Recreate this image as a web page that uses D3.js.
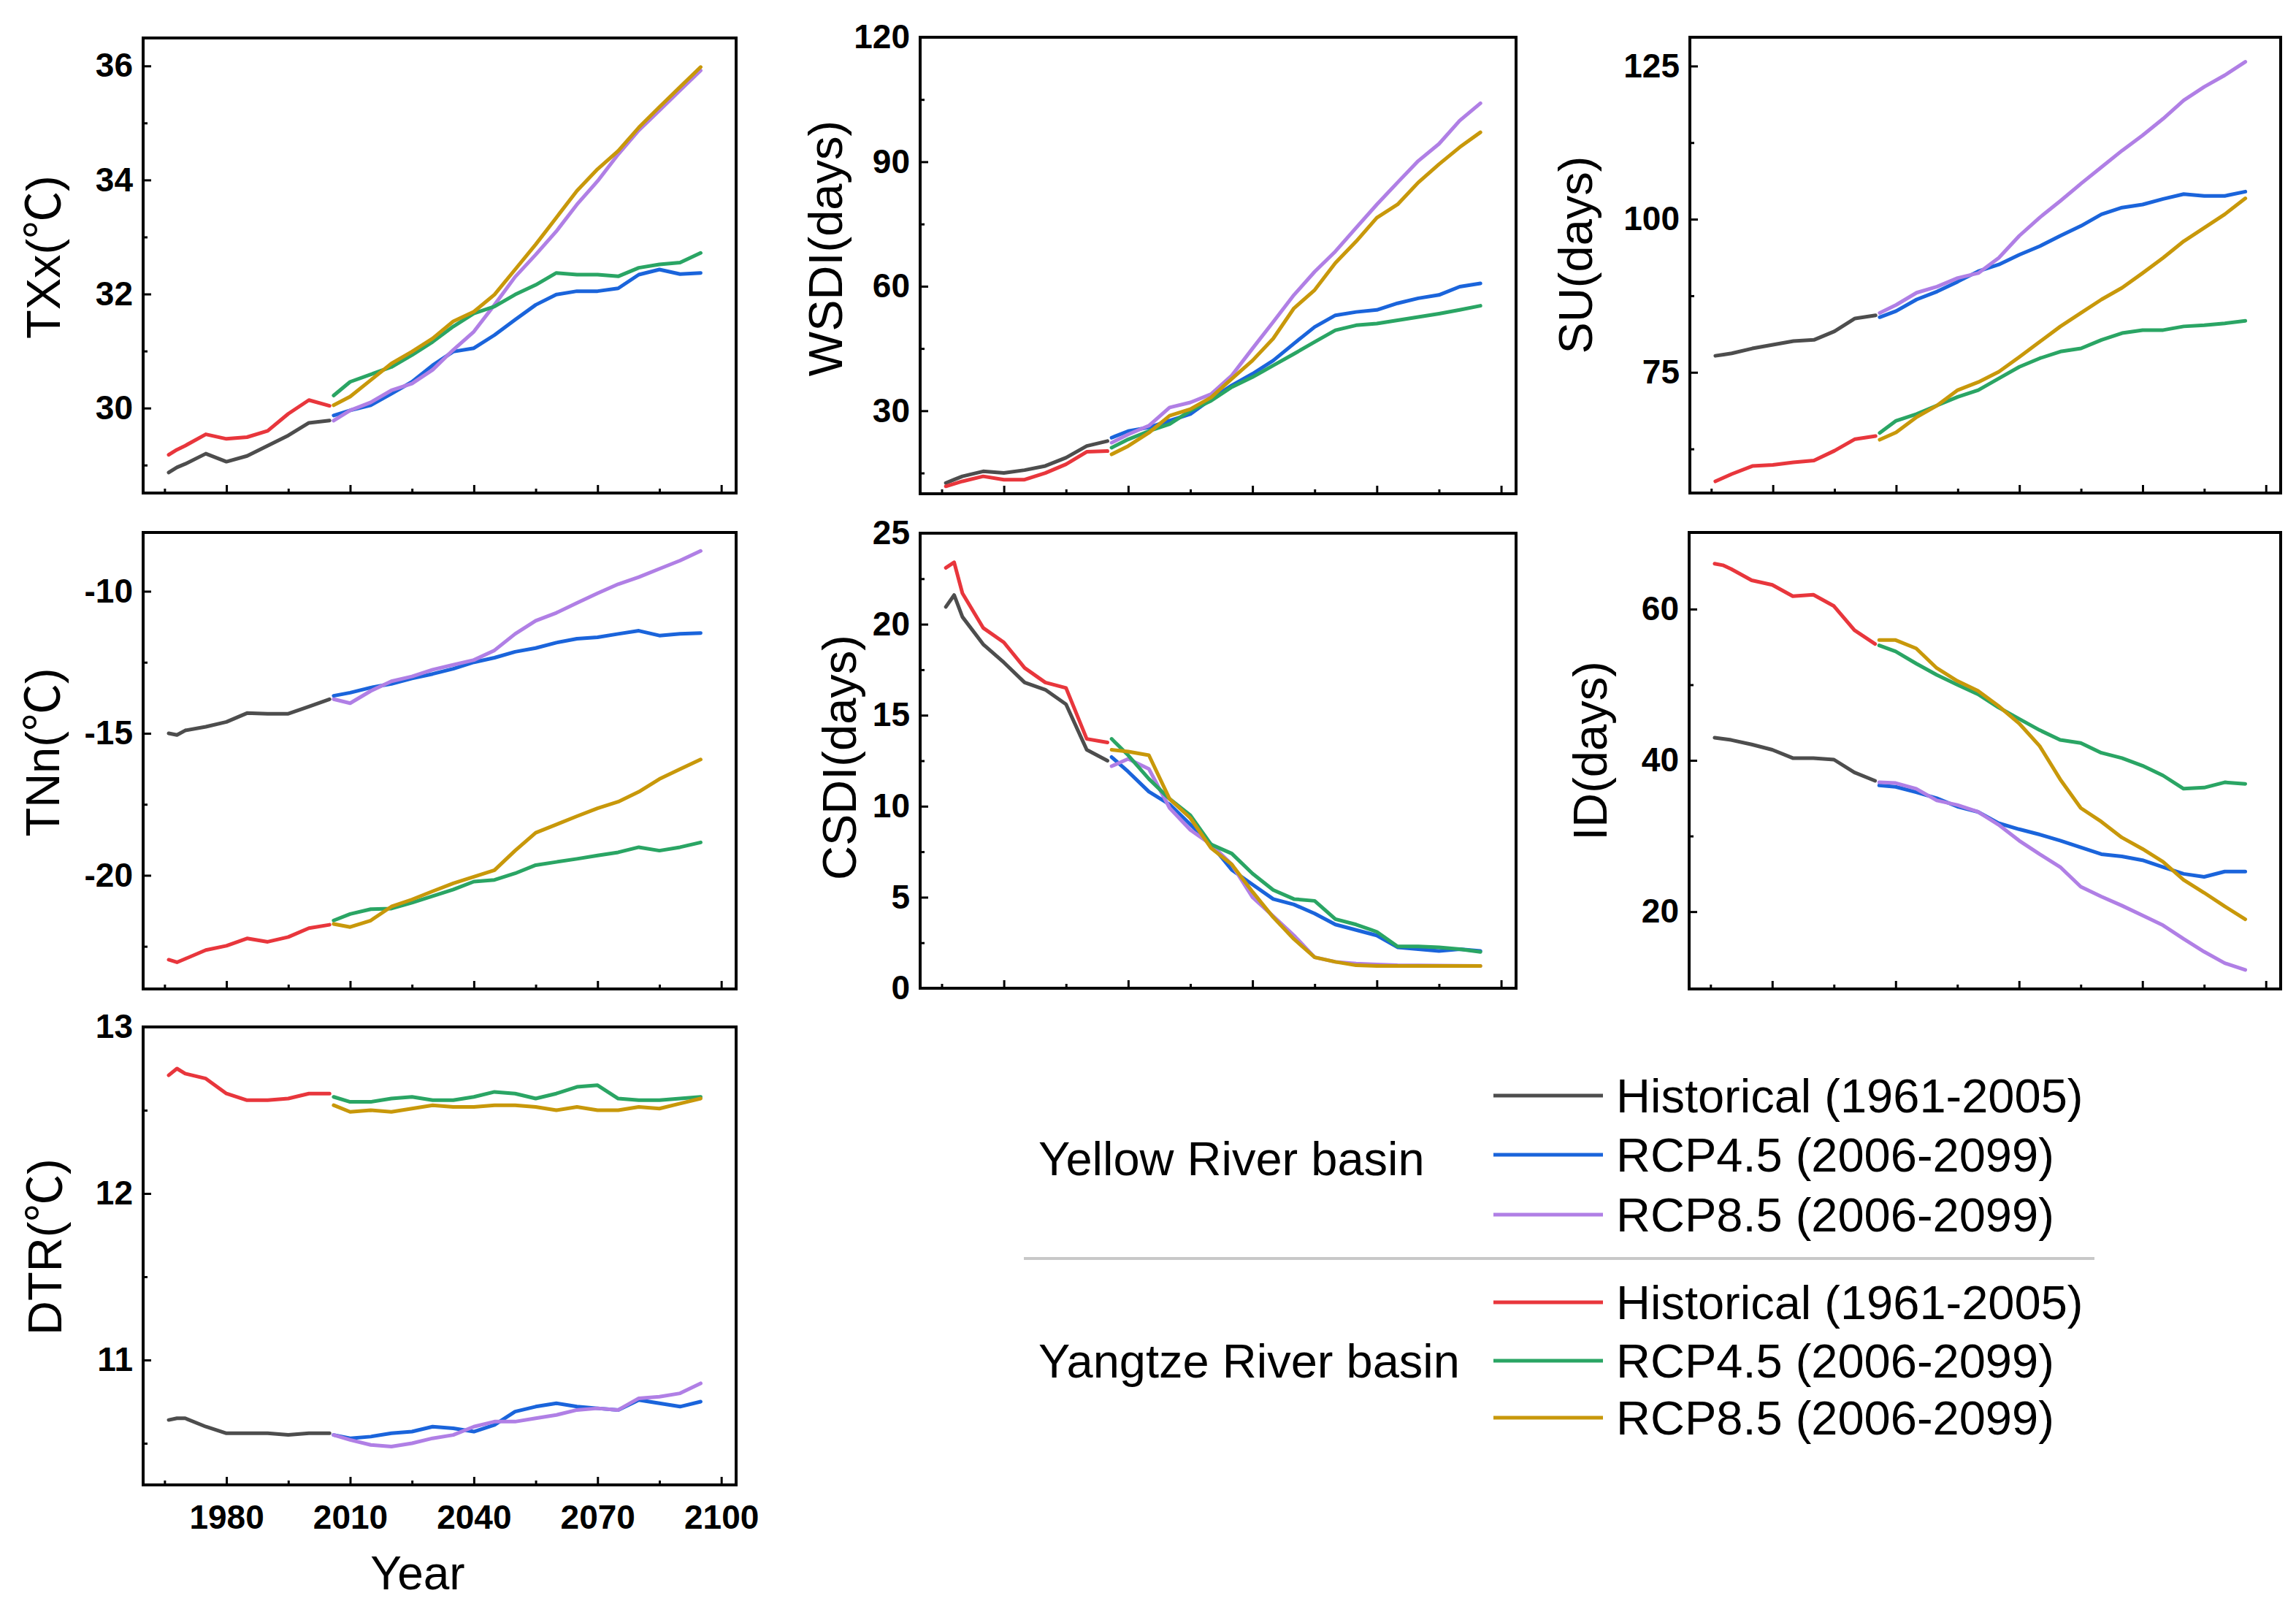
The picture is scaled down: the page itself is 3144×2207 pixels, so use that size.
<!DOCTYPE html>
<html>
<head>
<meta charset="utf-8">
<script src="https://cdnjs.cloudflare.com/ajax/libs/d3/7.8.5/d3.min.js"></script>
<style>
body { margin: 0; background: #fff; }
svg text { font-family: "Liberation Sans", Arial, "Noto Sans CJK SC", sans-serif; }
</style>
</head>
<body>
<svg id="chart" width="3144" height="2207"></svg>
<script>
// years (moving-window values, historical + projections)
var histYears = [1966, 1968, 1970, 1975, 1980, 1985, 1990, 1995, 2000, 2005];
var projYears = [2006, 2010, 2015, 2020, 2025, 2030, 2035, 2040, 2045, 2050, 2055, 2060, 2065, 2070, 2075, 2080, 2085, 2090, 2095];
var xMajor = [1980, 2010, 2040, 2070, 2100];
var xMinor = [1965, 1995, 2025, 2055, 2085];

// TXx
var txxYRHist = [28.87, 28.96, 29.02, 29.2, 29.06, 29.16, 29.34, 29.52, 29.74, 29.78];
var txxYZHist = [29.18, 29.27, 29.34, 29.54, 29.46, 29.49, 29.6, 29.9, 30.14, 30.04];
var txxYR45 = [29.87, 29.96, 30.05, 30.25, 30.46, 30.75, 30.99, 31.05, 31.28, 31.55, 31.81, 31.99, 32.05, 32.05, 32.1, 32.34, 32.43, 32.35, 32.37];
var txxYR85 = [29.78, 29.96, 30.1, 30.31, 30.43, 30.67, 31.02, 31.34, 31.81, 32.3, 32.69, 33.1, 33.57, 33.98, 34.45, 34.87, 35.22, 35.57, 35.92];
var txxYZ45 = [30.22, 30.46, 30.59, 30.72, 30.93, 31.16, 31.43, 31.66, 31.78, 31.99, 32.16, 32.37, 32.34, 32.34, 32.31, 32.46, 32.52, 32.55, 32.72];
var txxYZ85 = [30.05, 30.2, 30.49, 30.78, 30.99, 31.22, 31.52, 31.69, 31.99, 32.43, 32.87, 33.34, 33.81, 34.19, 34.51, 34.92, 35.28, 35.63, 35.98];

// WSDI
var wsdiYRHist = [12.6, 13.4, 14.2, 15.4, 15.0, 15.7, 16.7, 18.7, 21.5, 22.7];
var wsdiYZHist = [11.8, 12.4, 13.0, 14.2, 13.4, 13.4, 15.0, 17.1, 20.1, 20.3];
var wsdiYR45 = [23.5, 25.1, 26.0, 27.6, 29.2, 32.8, 36.1, 38.9, 42.1, 46.2, 50.2, 53.0, 53.8, 54.3, 55.9, 57.1, 57.9, 59.9, 60.7];
var wsdiYR85 = [22.3, 24.3, 26.4, 30.8, 32.0, 34.0, 38.5, 45.0, 51.4, 57.9, 63.5, 68.4, 74.1, 79.7, 85.0, 90.2, 94.3, 99.9, 104.1];
var wsdiYZ45 = [21.1, 23.1, 25.1, 26.8, 30.0, 32.4, 35.7, 38.1, 40.9, 43.7, 46.6, 49.4, 50.6, 51.0, 51.8, 52.6, 53.4, 54.3, 55.3];
var wsdiYZ85 = [19.5, 21.5, 24.7, 28.8, 30.4, 33.2, 37.7, 42.1, 47.4, 54.7, 59.1, 65.6, 70.8, 76.5, 79.7, 85.0, 89.4, 93.5, 97.1];

// SU
var suYRHist = [77.7, 77.9, 78.1, 78.9, 79.5, 80.1, 80.3, 81.7, 83.8, 84.3];
var suYZHist = [57.2, 57.8, 58.4, 59.7, 59.9, 60.3, 60.6, 62.2, 64.1, 64.6];
var suYR45 = [84.0, 85.0, 86.9, 88.2, 89.8, 91.5, 92.6, 94.2, 95.6, 97.3, 98.9, 100.8, 101.9, 102.4, 103.3, 104.1, 103.8, 103.8, 104.5];
var suYR85 = [84.7, 86.0, 88.0, 89.0, 90.4, 91.2, 93.7, 97.3, 100.3, 103.0, 105.8, 108.5, 111.2, 113.7, 116.4, 119.4, 121.6, 123.5, 125.7];
var suYZ45 = [65.1, 67.1, 68.2, 69.6, 71.0, 72.1, 74.0, 75.9, 77.3, 78.4, 78.9, 80.3, 81.4, 81.9, 81.9, 82.5, 82.7, 83.0, 83.4];
var suYZ85 = [64.0, 65.2, 67.7, 69.6, 72.1, 73.4, 75.1, 77.5, 80.0, 82.5, 84.7, 86.9, 88.8, 91.2, 93.7, 96.4, 98.6, 100.8, 103.4];

// TNn
var tnnYRHist = [-15.0, -15.06, -14.9, -14.77, -14.6, -14.29, -14.31, -14.31, -14.06, -13.8];
var tnnYZHist = [-22.97, -23.06, -22.94, -22.63, -22.48, -22.22, -22.34, -22.17, -21.86, -21.74];
var tnnYR45 = [-13.68, -13.57, -13.39, -13.26, -13.07, -12.91, -12.73, -12.5, -12.34, -12.13, -12.0, -11.81, -11.67, -11.62, -11.5, -11.39, -11.56, -11.5, -11.47];
var tnnYR85 = [-13.8, -13.94, -13.51, -13.17, -13.0, -12.76, -12.59, -12.42, -12.08, -11.5, -11.04, -10.76, -10.41, -10.07, -9.75, -9.5, -9.21, -8.92, -8.58];
var tnnYZ45 = [-21.59, -21.36, -21.19, -21.17, -20.96, -20.73, -20.5, -20.22, -20.16, -19.93, -19.64, -19.53, -19.42, -19.3, -19.19, -19.01, -19.13, -19.01, -18.84];
var tnnYZ85 = [-21.71, -21.82, -21.59, -21.1, -20.85, -20.56, -20.28, -20.05, -19.82, -19.13, -18.5, -18.21, -17.92, -17.64, -17.41, -17.06, -16.61, -16.26, -15.92];

// CSDI
var csdiYRHist = [20.95, 21.6, 20.4, 18.9, 17.9, 16.8, 16.4, 15.6, 13.1, 12.5];
var csdiYZHist = [23.1, 23.4, 21.7, 19.8, 19.0, 17.6, 16.8, 16.5, 13.7, 13.5];
var csdiYR45 = [12.7, 11.9, 10.8, 10.1, 9.0, 7.9, 6.5, 5.7, 4.9, 4.6, 4.1, 3.5, 3.2, 2.9, 2.25, 2.15, 2.05, 2.15, 2.05];
var csdiYR85 = [12.2, 12.6, 12.05, 9.9, 8.7, 7.9, 6.8, 5.0, 3.96, 2.9, 1.7, 1.45, 1.35, 1.3, 1.26, 1.25, 1.24, 1.23, 1.22];
var csdiYZ45 = [13.7, 12.8, 11.5, 10.4, 9.5, 7.9, 7.4, 6.3, 5.4, 4.9, 4.8, 3.8, 3.5, 3.1, 2.3, 2.3, 2.25, 2.15, 2.0];
var csdiYZ85 = [13.1, 13.0, 12.8, 10.4, 9.35, 7.7, 6.8, 5.3, 3.9, 2.7, 1.7, 1.45, 1.26, 1.22, 1.22, 1.22, 1.22, 1.22, 1.22];

// ID
var idYRHist = [43.0, 42.85, 42.7, 42.1, 41.4, 40.3, 40.3, 40.1, 38.4, 37.3];
var idYZHist = [66.0, 65.8, 65.3, 63.8, 63.2, 61.7, 61.9, 60.4, 57.2, 55.4];
var idYR45 = [36.7, 36.5, 35.8, 35.0, 33.9, 33.2, 31.7, 30.9, 30.2, 29.4, 28.5, 27.6, 27.3, 26.8, 25.9, 25.0, 24.6, 25.3, 25.3];
var idYR85 = [37.1, 37.0, 36.25, 34.7, 34.1, 33.2, 31.5, 29.4, 27.6, 25.9, 23.3, 22.0, 20.8, 19.5, 18.2, 16.4, 14.7, 13.2, 12.3];
var idYZ45 = [55.2, 54.4, 52.8, 51.3, 50.0, 48.75, 47.0, 45.5, 44.0, 42.7, 42.3, 41.0, 40.3, 39.3, 38.0, 36.25, 36.4, 37.1, 36.9];
var idYZ85 = [55.9, 55.9, 54.8, 52.2, 50.5, 49.2, 47.2, 44.9, 41.9, 37.5, 33.7, 31.9, 29.8, 28.3, 26.6, 24.2, 22.5, 20.7, 19.0];

// DTR
var dtrYRHist = [10.64, 10.65, 10.65, 10.6, 10.56, 10.56, 10.56, 10.55, 10.56, 10.56];
var dtrYZHist = [12.71, 12.75, 12.72, 12.69, 12.6, 12.56, 12.56, 12.57, 12.6, 12.6];
var dtrYR45 = [10.55, 10.53, 10.54, 10.56, 10.57, 10.6, 10.59, 10.57, 10.61, 10.69, 10.72, 10.74, 10.72, 10.71, 10.7, 10.76, 10.74, 10.72, 10.75];
var dtrYR85 = [10.55, 10.52, 10.49, 10.48, 10.5, 10.53, 10.55, 10.6, 10.63, 10.63, 10.65, 10.67, 10.7, 10.71, 10.7, 10.77, 10.78, 10.8, 10.86];
var dtrYZ45 = [12.58, 12.55, 12.55, 12.57, 12.58, 12.56, 12.56, 12.58, 12.61, 12.6, 12.57, 12.6, 12.64, 12.65, 12.57, 12.56, 12.56, 12.57, 12.58];
var dtrYZ85 = [12.53, 12.49, 12.5, 12.49, 12.51, 12.53, 12.52, 12.52, 12.53, 12.53, 12.52, 12.5, 12.52, 12.5, 12.5, 12.52, 12.51, 12.54, 12.57];

var legendBasins = ["Yellow River basin", "Yangtze River basin"];
var legendItems = ["Historical (1961-2005)", "RCP4.5 (2006-2099)", "RCP8.5 (2006-2099)"];

var colors = {
  yrHist: "#4d4d4d", yr45: "#1a64db", yr85: "#b07fe5",
  yzHist: "#e8363c", yz45: "#2aa564", yz85: "#c8980a"
};

function zip(years, vals) {
  return years.map(function(y, i) { return [y, vals[i]]; });
}

function series(h1, h2, a, b, c, d) {
  return [
    { c: colors.yrHist, pts: zip(histYears, h1) },
    { c: colors.yzHist, pts: zip(histYears, h2) },
    { c: colors.yr45, pts: zip(projYears, a) },
    { c: colors.yr85, pts: zip(projYears, b) },
    { c: colors.yz45, pts: zip(projYears, c) },
    { c: colors.yz85, pts: zip(projYears, d) }
  ];
}

// label pieces: the ℃ sign is set in a CJK face
var panels = [
  { label: ["TXx(", "℃", ")"], x: 196, y: 52, w: 812, h: 623, dom: [28.51, 36.49],
    major: [30, 32, 34, 36], minor: [29, 31, 33, 35], lx: 82, ly: 352,
    s: series(txxYRHist, txxYZHist, txxYR45, txxYR85, txxYZ45, txxYZ85) },
  { label: ["WSDI(days)"], x: 1260, y: 51, w: 816, h: 625, dom: [10, 120],
    major: [30, 60, 90, 120], minor: [15, 45, 75, 105], lx: 1153, ly: 340,
    s: series(wsdiYRHist, wsdiYZHist, wsdiYR45, wsdiYR85, wsdiYZ45, wsdiYZ85) },
  { label: ["SU(days)"], x: 2314, y: 51, w: 809, h: 624, dom: [55.3, 129.7],
    major: [75, 100, 125], minor: [62.5, 87.5, 112.5], lx: 2180, ly: 349,
    s: series(suYRHist, suYZHist, suYR45, suYR85, suYZ45, suYZ85) },
  { label: ["TNn(", "℃", ")"], x: 196, y: 729, w: 812, h: 625, dom: [-24.0, -7.93],
    major: [-20, -15, -10], minor: [-22.5, -17.5, -12.5], lx: 81, ly: 1030,
    s: series(tnnYRHist, tnnYZHist, tnnYR45, tnnYR85, tnnYZ45, tnnYZ85) },
  { label: ["CSDI(days)"], x: 1260, y: 730, w: 816, h: 623, dom: [0, 25],
    major: [0, 5, 10, 15, 20, 25], minor: [2.5, 7.5, 12.5, 17.5, 22.5], lx: 1172, ly: 1037,
    s: series(csdiYRHist, csdiYZHist, csdiYR45, csdiYR85, csdiYZ45, csdiYZ85) },
  { label: ["ID(days)"], x: 2313, y: 729, w: 810, h: 625, dom: [9.78, 70.13],
    major: [20, 40, 60], minor: [30, 50], lx: 2200, ly: 1028,
    s: series(idYRHist, idYZHist, idYR45, idYR85, idYZ45, idYZ85) },
  { label: ["DTR(", "℃", ")"], x: 196, y: 1406, w: 812, h: 627, dom: [10.25, 13],
    major: [11, 12, 13], minor: [10.5, 11.5, 12.5], lx: 84, ly: 1707, xlabels: true,
    s: series(dtrYRHist, dtrYZHist, dtrYR45, dtrYR85, dtrYZ45, dtrYZ85) }
];

var svg = d3.select("#chart");
var noLabel = function() { return ""; };

panels.forEach(function(p) {
  var x = d3.scaleLinear().domain([1959.8, 2103.6]).range([0, p.w]);
  var y = d3.scaleLinear().domain(p.dom).range([p.h, 0]);
  var g = svg.append("g").attr("transform", "translate(" + p.x + "," + p.y + ")");

  var line = d3.line()
    .x(function(d) { return x(d[0]); })
    .y(function(d) { return y(d[1]); });

  g.selectAll(".series")
    .data(p.s)
    .enter().append("path")
    .attr("class", "series")
    .attr("d", function(d) { return line(d.pts); })
    .attr("fill", "none")
    .attr("stroke", function(d) { return d.c; })
    .attr("stroke-width", 5)
    .attr("stroke-linejoin", "round")
    .attr("stroke-linecap", "round");

  g.append("g").attr("transform", "translate(0," + p.h + ")")
    .call(d3.axisBottom(x).tickValues(xMajor).tickSize(-11).tickPadding(27)
      .tickFormat(p.xlabels ? function(d) { return String(d); } : noLabel));
  g.append("g").attr("transform", "translate(0," + p.h + ")")
    .call(d3.axisBottom(x).tickValues(xMinor).tickSize(-6).tickFormat(noLabel));

  g.append("g")
    .call(d3.axisLeft(y).tickValues(p.major).tickSize(-11).tickPadding(14)
      .tickFormat(function(d) { return String(d); }));
  g.append("g")
    .call(d3.axisLeft(y).tickValues(p.minor).tickSize(-6).tickFormat(noLabel));

  g.selectAll(".domain").remove();
  g.selectAll(".tick line").attr("stroke", "#000").attr("stroke-width", 3);
  g.selectAll(".tick text")
    .attr("fill", "#000")
    .style("font-size", "46px")
    .style("font-weight", "bold");

  g.append("rect")
    .attr("width", p.w).attr("height", p.h)
    .attr("fill", "none").attr("stroke", "#000").attr("stroke-width", 4);

  var t = svg.append("text")
    .attr("transform", "translate(" + p.lx + "," + p.ly + ") rotate(-90)")
    .attr("text-anchor", "middle")
    .style("font-size", "65px");
  t.selectAll("tspan")
    .data(p.label)
    .enter().append("tspan")
    .style("font-family", function(d) { return d === "℃" ? "'Noto Sans CJK SC'" : null; })
    .text(function(d) { return d; });
});

svg.append("text")
  .attr("x", 572).attr("y", 2176)
  .attr("text-anchor", "middle")
  .style("font-size", "64px")
  .text("Year");

// legend
var legendColors = [colors.yrHist, colors.yr45, colors.yr85, colors.yzHist, colors.yz45, colors.yz85];
var legendRows = [1500, 1581, 1663, 1783, 1863, 1941];
var leg = svg.append("g");

leg.selectAll(".basin")
  .data(legendBasins)
  .enter().append("text")
  .attr("x", 1422)
  .attr("y", function(d, i) { return [1586, 1863][i] + 23; })
  .style("font-size", "65px")
  .text(function(d) { return d; });

leg.selectAll(".sample")
  .data(legendColors)
  .enter().append("line")
  .attr("x1", 2045).attr("x2", 2195)
  .attr("y1", function(d, i) { return legendRows[i]; })
  .attr("y2", function(d, i) { return legendRows[i]; })
  .attr("stroke", function(d) { return d; })
  .attr("stroke-width", 5);

leg.selectAll(".item")
  .data(legendItems.concat(legendItems))
  .enter().append("text")
  .attr("x", 2213)
  .attr("y", function(d, i) { return legendRows[i] + 23; })
  .style("font-size", "65px")
  .text(function(d) { return d; });

leg.append("line")
  .attr("x1", 1402).attr("x2", 2868)
  .attr("y1", 1723).attr("y2", 1723)
  .attr("stroke", "#c8c8c8").attr("stroke-width", 4);
</script>
</body>
</html>
